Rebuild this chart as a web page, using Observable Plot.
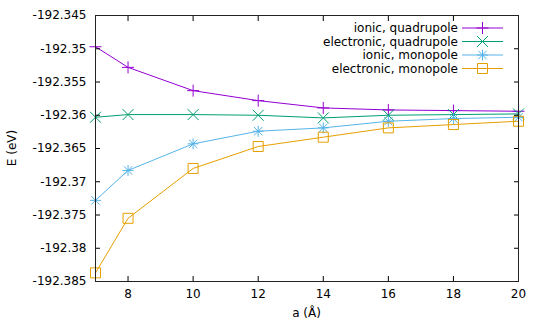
<!DOCTYPE html>
<html><head><meta charset="utf-8">
<script src="https://cdn.jsdelivr.net/npm/d3@7"></script>
<script src="https://cdn.jsdelivr.net/npm/@observablehq/plot@0.6"></script>
<style>
body{margin:0;background:#fff}
#wrap{position:relative;width:540px;height:324px;font-family:"DejaVu Sans",sans-serif}
</style>
</head><body><div id="wrap"></div>
<script>
// ---- data ----
const aValues = [7, 8, 10, 12, 14, 16, 18, 20];
const ionicQuadrupole      = [-192.3497, -192.3528, -192.3563, -192.3578, -192.3589, -192.3592, -192.3593, -192.3594];
const electronicQuadrupole = [-192.3603, -192.3599, -192.3599, -192.3600, -192.3604, -192.3600, -192.3599, -192.3598];
const ionicMonopole        = [-192.3728, -192.3683, -192.3643, -192.3624, -192.3619, -192.3609, -192.3605, -192.3603];
const electronicMonopole   = [-192.3837, -192.3755, -192.3680, -192.3647, -192.3633, -192.3619, -192.3614, -192.3609];
const seriesNames = ["ionic, quadrupole", "electronic, quadrupole", "ionic, monopole", "electronic, monopole"];
const xTicks = [8, 10, 12, 14, 16, 18, 20];
const yTicks = [-192.385, -192.38, -192.375, -192.37, -192.365, -192.36, -192.355, -192.35, -192.345];
const xLabel = "a (Å)";
const yLabel = "E (eV)";

// ---- styles ----
const colors = ["#9400d3", "#009e73", "#56b4e9", "#e69f00"];
const symPlus = {draw(c){const r=6;c.moveTo(-r,0);c.lineTo(r,0);c.moveTo(0,-r);c.lineTo(0,r);}};
const symTimes = {draw(c){const r=5.5;c.moveTo(-r,-r);c.lineTo(r,r);c.moveTo(-r,r);c.lineTo(r,-r);}};
const symStar = {draw(c){const r=5.5,q=4.2;c.moveTo(-r,0);c.lineTo(r,0);c.moveTo(0,-r);c.lineTo(0,r);c.moveTo(-q,-q);c.lineTo(q,q);c.moveTo(-q,q);c.lineTo(q,-q);}};
const symSquare = {draw(c){const r=5;c.rect(-r,-r,2*r,2*r);}};
const symbols = [symPlus, symTimes, symStar, symSquare];

const valueArrays = [ionicQuadrupole, electronicQuadrupole, ionicMonopole, electronicMonopole];
const rows = [];
seriesNames.forEach((name, i) => valueArrays[i].forEach((v, j) => rows.push({series: name, a: aValues[j], E: v})));

const marks = [];
seriesNames.forEach((name, i) => {
  const d = rows.filter(r => r.series === name);
  marks.push(Plot.line(d, {x: "a", y: "E", stroke: colors[i], strokeWidth: 1}));
  marks.push(Plot.dot(d, {x: "a", y: "E", stroke: colors[i], fill: "none", strokeWidth: 1, symbol: symbols[i], r: 5}));
});

const W = 540, H = 324, mL = 95, mR = 22, mT = 15, mB = 43;
const FS = 12;
const fmt = d => String(d);

const chart = Plot.plot({
  width: W, height: H,
  marginLeft: mL, marginRight: mR, marginTop: mT, marginBottom: mB,
  style: {fontFamily: "DejaVu Sans, sans-serif", fontSize: FS + "px", color: "#000", background: "#fff"},
  x: {domain: [7, 20], ticks: xTicks},
  y: {domain: [-192.385, -192.345], ticks: yTicks},
  marks: [
    ...marks,
    Plot.axisX({anchor: "bottom", ticks: xTicks, tickSize: -5, tickPadding: 13, tickFormat: fmt, label: null, fontSize: FS}),
    Plot.axisX({anchor: "top", ticks: xTicks, tickSize: -5, tickFormat: () => "", label: null}),
    Plot.axisY({anchor: "left", ticks: yTicks, tickSize: -5, tickPadding: 14, tickFormat: fmt, label: null, fontSize: FS}),
    Plot.axisY({anchor: "right", ticks: yTicks, tickSize: -5, tickFormat: () => "", label: null}),
    Plot.frame({stroke: "#222", strokeWidth: 1})
  ]
});

const wrap = document.getElementById("wrap");
wrap.appendChild(chart);

// axis titles
const svg = d3.select(chart);
svg.append("text").attr("x", mL + (W - mL - mR) / 2).attr("y", 317).attr("text-anchor", "middle")
  .attr("font-size", FS).attr("fill", "#000").text(xLabel);
svg.append("text").attr("transform", `translate(16,${mT + (H - mT - mB) / 2}) rotate(-90)`).attr("text-anchor", "middle")
  .attr("font-size", FS).attr("fill", "#000").text(yLabel);

// legend
const lg = svg.append("g").attr("font-size", FS).attr("font-family", "DejaVu Sans, sans-serif");
const rowY = [28, 41.5, 55, 68.5];
seriesNames.forEach((name, i) => {
  const y = rowY[i];
  lg.append("text").attr("x", 458).attr("y", y).attr("dy", "0.35em").attr("text-anchor", "end").attr("fill", "#000").text(name);
  lg.append("line").attr("x1", 462).attr("x2", 503).attr("y1", y).attr("y2", y).attr("stroke", colors[i]).attr("stroke-width", 1);
  lg.append("path").attr("transform", `translate(482.5,${y})`).attr("d", d3.symbol().type(symbols[i])()).attr("fill", "none").attr("stroke", colors[i]).attr("stroke-width", 1);
});
</script>
</body></html>
